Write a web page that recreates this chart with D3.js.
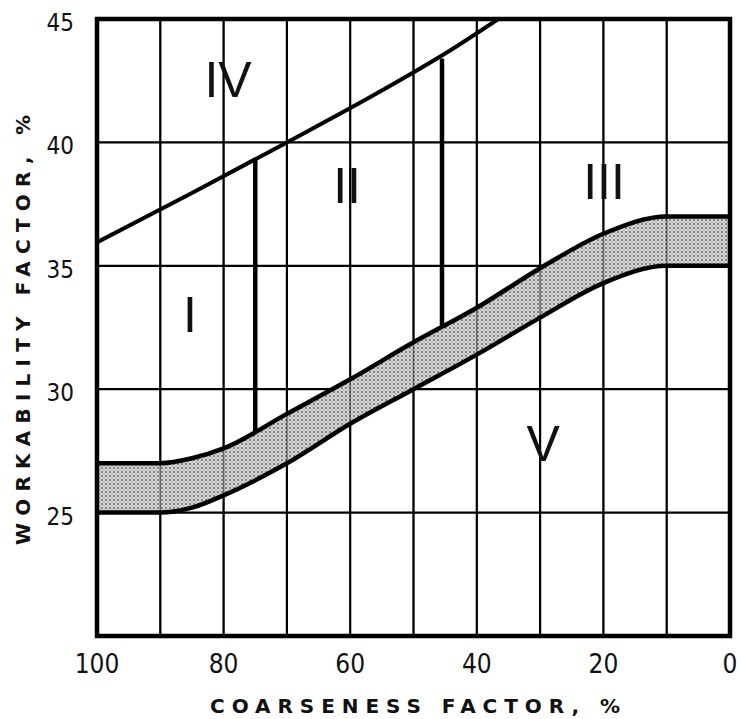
<!DOCTYPE html>
<html>
<head>
<meta charset="utf-8">
<script src="https://cdn.jsdelivr.net/npm/d3@7"></script>
<style>
    html, body { margin: 0; padding: 0; background: #fff; }
    svg { display: block; }
</style>
</head>
<body>
<svg id="chart"></svg>
<script>
// coarseness factor (%) vs workability factor (%)
const xTicks = [100, 80, 60, 40, 20, 0];
const yTicks = [25, 30, 35, 40, 45];
const xGrid = [90, 80, 70, 60, 50, 40, 30, 20, 10];
const yGrid = [25, 30, 35, 40];

// shaded band: upper and lower edges
const bandX = [100, 90, 85, 80, 70, 60, 50, 40, 30, 20, 10, 0];
const bandUpper = [27, 27, 27.2, 27.6, 29.0, 30.4, 31.9, 33.3, 34.9, 36.3, 37, 37];
const bandLower = [25, 25, 25.2, 25.7, 27.0, 28.6, 30.0, 31.4, 32.9, 34.3, 35, 35];

// upper sloping boundary (zone IV)
const topLineX = [100, 85, 70, 55, 45, 36.6];
const topLineY = [35.95, 37.95, 40, 42.1, 43.6, 45];

// vertical dividers between zones
const dividerX = [75, 45.5];
const dividerFrom = [28.3, 32.6];
const dividerTo = [39.35, 43.4];

// zone labels
const zoneNames = ['IV', 'II', 'III', 'I', 'V'];
const zoneX = [79.3, 60.5, 19.9, 85.3, 29.5];
const zoneY = [41.85, 37.55, 37.7, 32.3, 27.1];

const W = 741, H = 719;
const margin = { top: 19, right: 11, bottom: 83, left: 97 };
const width = W - margin.left - margin.right;
const height = H - margin.top - margin.bottom;

const root = d3.select('#chart').attr('width', W).attr('height', H);

const defs = root.append('defs');
const pat = defs.append('pattern')
    .attr('id', 'stipple')
    .attr('patternUnits', 'userSpaceOnUse')
    .attr('width', 4)
    .attr('height', 4);
pat.append('rect').attr('width', 4).attr('height', 4).attr('fill', '#dadada');
pat.append('circle').attr('cx', 1).attr('cy', 1).attr('r', 0.9).attr('fill', '#555');
pat.append('circle').attr('cx', 3).attr('cy', 3).attr('r', 0.7).attr('fill', '#888');

defs.append('clipPath').attr('id', 'plotClip')
    .append('rect').attr('width', width).attr('height', height);

const svg = root.append('g')
    .attr('transform', `translate(${margin.left},${margin.top})`);

const x = d3.scaleLinear().domain([100, 0]).range([0, width]);
const y = d3.scaleLinear().domain([20, 45]).range([height, 0]);

// grid
svg.append('g')
    .selectAll('line')
    .data(xGrid)
    .enter().append('line')
    .attr('x1', d => x(d)).attr('x2', d => x(d))
    .attr('y1', 0).attr('y2', height)
    .attr('stroke', '#000')
    .attr('stroke-width', 2.2);

svg.append('g')
    .selectAll('line')
    .data(yGrid)
    .enter().append('line')
    .attr('x1', 0).attr('x2', width)
    .attr('y1', d => y(d)).attr('y2', d => y(d))
    .attr('stroke', '#000')
    .attr('stroke-width', 2.2);

const plot = svg.append('g').attr('clip-path', 'url(#plotClip)');

// band
const band = bandX.map((v, i) => ({ x: v, lo: bandLower[i], hi: bandUpper[i] }));

const area = d3.area()
    .x(d => x(d.x))
    .y0(d => y(d.lo))
    .y1(d => y(d.hi))
    .curve(d3.curveMonotoneX);

plot.append('path')
    .datum(band)
    .attr('d', area)
    .attr('fill', 'url(#stipple)');

// grid lines show faintly through the stipple, like the print
plot.append('g')
    .selectAll('line')
    .data(xGrid)
    .enter().append('line')
    .attr('x1', d => x(d)).attr('x2', d => x(d))
    .attr('y1', 0).attr('y2', height)
    .attr('stroke', '#000')
    .attr('stroke-width', 1.5)
    .attr('opacity', 0.5);

const edge = d3.line()
    .x(d => x(d[0]))
    .y(d => y(d[1]))
    .curve(d3.curveMonotoneX);

plot.append('path')
    .datum(bandX.map((v, i) => [v, bandUpper[i]]))
    .attr('d', edge)
    .attr('fill', 'none')
    .attr('stroke', '#000')
    .attr('stroke-width', 4.5);

plot.append('path')
    .datum(bandX.map((v, i) => [v, bandLower[i]]))
    .attr('d', edge)
    .attr('fill', 'none')
    .attr('stroke', '#000')
    .attr('stroke-width', 4.5);

// sloping upper boundary
plot.append('path')
    .datum(topLineX.map((v, i) => [v, topLineY[i]]))
    .attr('d', edge)
    .attr('fill', 'none')
    .attr('stroke', '#000')
    .attr('stroke-width', 4);

// dividers
plot.selectAll('.divider')
    .data(dividerX)
    .enter().append('line')
    .attr('class', 'divider')
    .attr('x1', d => x(d)).attr('x2', d => x(d))
    .attr('y1', (d, i) => y(dividerFrom[i]))
    .attr('y2', (d, i) => y(dividerTo[i]))
    .attr('stroke', '#000')
    .attr('stroke-width', 4.5);

// frame
svg.append('rect')
    .attr('width', width)
    .attr('height', height)
    .attr('fill', 'none')
    .attr('stroke', '#000')
    .attr('stroke-width', 4.5);

// zone labels
svg.selectAll('.zone')
    .data(zoneNames)
    .enter().append('text')
    .attr('class', 'zone')
    .attr('x', (d, i) => x(zoneX[i]))
    .attr('y', (d, i) => y(zoneY[i]))
    .attr('text-anchor', 'middle')
    .style('font-family', '"Liberation Sans", Arial, sans-serif')
    .style('font-size', '50px')
    .style('fill', '#111')
    .text(d => d);

// tick labels
svg.append('g')
    .selectAll('text')
    .data(xTicks)
    .enter().append('text')
    .attr('x', d => x(d))
    .attr('y', height + 37)
    .attr('text-anchor', 'middle')
    .style('font-family', '"Liberation Sans Narrow", "DejaVu Sans Condensed", sans-serif')
    .style('font-size', '26px')
    .style('fill', '#111')
    .text(d => d);

svg.append('g')
    .selectAll('text')
    .data(yTicks)
    .enter().append('text')
    .attr('x', -23)
    .attr('y', d => y(d) + 12)
    .attr('text-anchor', 'end')
    .style('font-family', '"Liberation Sans Narrow", "DejaVu Sans Condensed", sans-serif')
    .style('font-size', '24px')
    .style('fill', '#111')
    .text(d => d);

// axis titles
svg.append('text')
    .attr('x', 415 - margin.left)
    .attr('y', 713 - margin.top)
    .attr('text-anchor', 'middle')
    .attr('textLength', 410)
    .attr('lengthAdjust', 'spacing')
    .style('font-family', '"DejaVu Sans", sans-serif')
    .style('font-weight', 'bold')
    .style('font-size', '20px')
    .style('fill', '#111')
    .text('COARSENESS FACTOR, %');

svg.append('text')
    .attr('transform', `translate(${30 - margin.left},${330 - margin.top}) rotate(-90)`)
    .attr('text-anchor', 'middle')
    .attr('textLength', 430)
    .attr('lengthAdjust', 'spacing')
    .style('font-family', '"DejaVu Sans", sans-serif')
    .style('font-weight', 'bold')
    .style('font-size', '20px')
    .style('fill', '#111')
    .text('WORKABILITY FACTOR, %');
</script>
</body>
</html>
